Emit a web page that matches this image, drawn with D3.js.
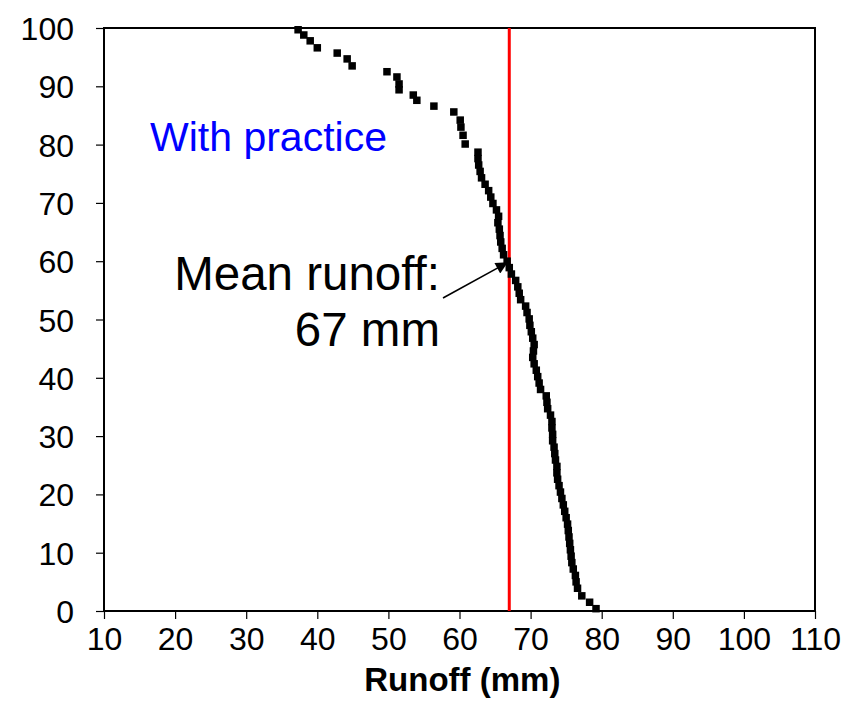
<!DOCTYPE html>
<html>
<head>
<meta charset="utf-8">
<script src="https://cdn.jsdelivr.net/npm/d3@7"></script>
<style>
  body { margin: 0; background: #fff; }
  svg { display: block; font-family: Arial, "Liberation Sans", sans-serif; }
</style>
</head>
<body>
<svg width="863" height="722"></svg>
<script>
// runoff (mm) and exceedance (%)
const runoff = [
  37.3, 38.1, 39.0, 40.0, 42.8, 44.2, 44.9, 49.8, 51.2, 51.5, 51.5, 53.5, 54.0, 56.4, 59.2,
  60.1, 60.2, 60.5, 60.8,
  62.6, 62.6, 62.7, 62.9, 63.1, 63.6, 64.1, 64.4, 64.7, 65.2, 65.5, 65.4, 65.6, 65.7, 65.8,
  66.0, 66.2, 66.7, 67.0, 67.3, 67.9, 68.2, 68.4, 68.6, 69.3, 69.5, 69.8, 69.9, 70.1, 70.3,
  70.5, 70.4, 70.3, 70.5, 70.8, 71.0, 71.2, 71.4, 72.2, 72.3, 72.4, 72.8, 73.0, 73.0, 73.1,
  73.1, 73.3, 73.4, 73.5, 73.7, 73.7, 73.8, 74.0, 74.2, 74.4, 74.6, 74.8, 75.0, 75.2, 75.3,
  75.4, 75.5, 75.6, 75.7, 75.8, 76.0, 76.3, 76.4, 76.6, 77.2, 78.3, 79.2
];
const exceed = [
  99.7, 98.8, 97.8, 96.6, 95.7, 94.7, 93.5, 92.5, 91.6, 90.4, 89.4, 88.5, 87.6, 86.6, 85.6,
  84.2, 83.0, 81.6, 80.1,
  78.7, 77.6, 76.5, 75.4, 74.3, 73.2, 72.1, 71.0, 69.9, 68.8, 67.7, 66.6, 65.5, 64.4, 63.3,
  62.2, 61.1, 60.0, 58.9, 57.8, 56.7, 55.6, 54.5, 53.4, 52.3, 51.2, 50.1, 49.0, 47.9, 46.8,
  45.7, 44.6, 43.5, 42.4, 41.3, 40.2, 39.1, 38.0, 36.9, 35.8, 34.7, 33.6, 32.5, 31.4, 30.3,
  29.2, 28.1, 27.0, 25.9, 24.8, 23.7, 22.6, 21.5, 20.4, 19.3, 18.2, 17.1, 16.0, 14.9, 13.8,
  12.7, 11.6, 10.5, 9.4, 8.3, 7.2, 6.1, 5.0, 3.9, 2.6, 1.5, 0.4
];
const xTicks = [10, 20, 30, 40, 50, 60, 70, 80, 90, 100, 110];
const yTicks = [0, 10, 20, 30, 40, 50, 60, 70, 80, 90, 100];
const meanRunoff = 67;

const margin = { top: 28, right: 48, bottom: 111, left: 104 },
  width = 863 - margin.left - margin.right,
  height = 722 - margin.top - margin.bottom;

const svg = d3.select("svg")
  .append("g")
  .attr("transform", `translate(${margin.left}, ${margin.top})`);

const x = d3.scaleLinear().domain([10, 110]).range([0, width]);
const y = d3.scaleLinear().domain([0, 100]).range([height, 0]);

// axes
const xAxis = svg.append("g")
  .attr("transform", `translate(0, ${height})`)
  .call(d3.axisBottom(x).tickValues(xTicks).tickSize(8).tickPadding(9));
const yAxis = svg.append("g")
  .call(d3.axisLeft(y).tickValues(yTicks).tickSize(8).tickPadding(22));

[xAxis, yAxis].forEach(a => {
  a.select(".domain").remove();
  a.selectAll("line").attr("stroke", "#000").attr("stroke-width", 1.2);
  a.selectAll("text")
    .attr("fill", "#000")
    .style("font-size", "32px");
});
yAxis.selectAll("text").attr("dy", "0.36em");
xAxis.selectAll("text").attr("dy", "0.7em");

// frame
svg.append("rect")
  .attr("width", width)
  .attr("height", height)
  .attr("fill", "none")
  .attr("stroke", "#000")
  .attr("stroke-width", 2);

// mean line
svg.append("line")
  .attr("x1", x(meanRunoff)).attr("x2", x(meanRunoff))
  .attr("y1", y(0)).attr("y2", y(100))
  .attr("stroke", "#ff0000")
  .attr("stroke-width", 3);

// points
const pts = runoff.map((r, i) => ({ r: r, p: exceed[i] }));
svg.selectAll("rect.pt")
  .data(pts)
  .enter().append("rect")
  .attr("class", "pt")
  .attr("x", d => x(d.r) - 3.75)
  .attr("y", d => y(d.p) - 3.75)
  .attr("width", 7.5)
  .attr("height", 7.5)
  .attr("fill", "#000");

// labels
svg.append("text")
  .attr("x", 46).attr("y", 123)
  .attr("fill", "#0000ff")
  .style("font-size", "41px")
  .text("With practice");

svg.append("text")
  .attr("x", 336).attr("y", 262)
  .attr("text-anchor", "end")
  .style("font-size", "47.5px")
  .text("Mean runoff:");
svg.append("text")
  .attr("x", 336).attr("y", 318)
  .attr("text-anchor", "end")
  .style("font-size", "47.5px")
  .text("67 mm");

// arrow
svg.append("defs").append("marker")
  .attr("id", "arr")
  .attr("viewBox", "0 0 10 10")
  .attr("refX", 10).attr("refY", 5)
  .attr("markerWidth", 16).attr("markerHeight", 12)
  .attr("markerUnits", "userSpaceOnUse")
  .attr("orient", "auto")
  .append("path")
  .attr("d", "M0,0 L10,5 L0,10 Z")
  .attr("fill", "#000");
svg.append("line")
  .attr("x1", 339).attr("y1", 270)
  .attr("x2", x(66.8)).attr("y2", y(59.8))
  .attr("stroke", "#000")
  .attr("stroke-width", 1.6)
  .attr("marker-end", "url(#arr)");

// axis title
svg.append("text")
  .attr("x", x(60.4)).attr("y", height + 80)
  .attr("text-anchor", "middle")
  .style("font-size", "33px")
  .style("font-weight", "bold")
  .text("Runoff (mm)");
</script>
</body>
</html>
